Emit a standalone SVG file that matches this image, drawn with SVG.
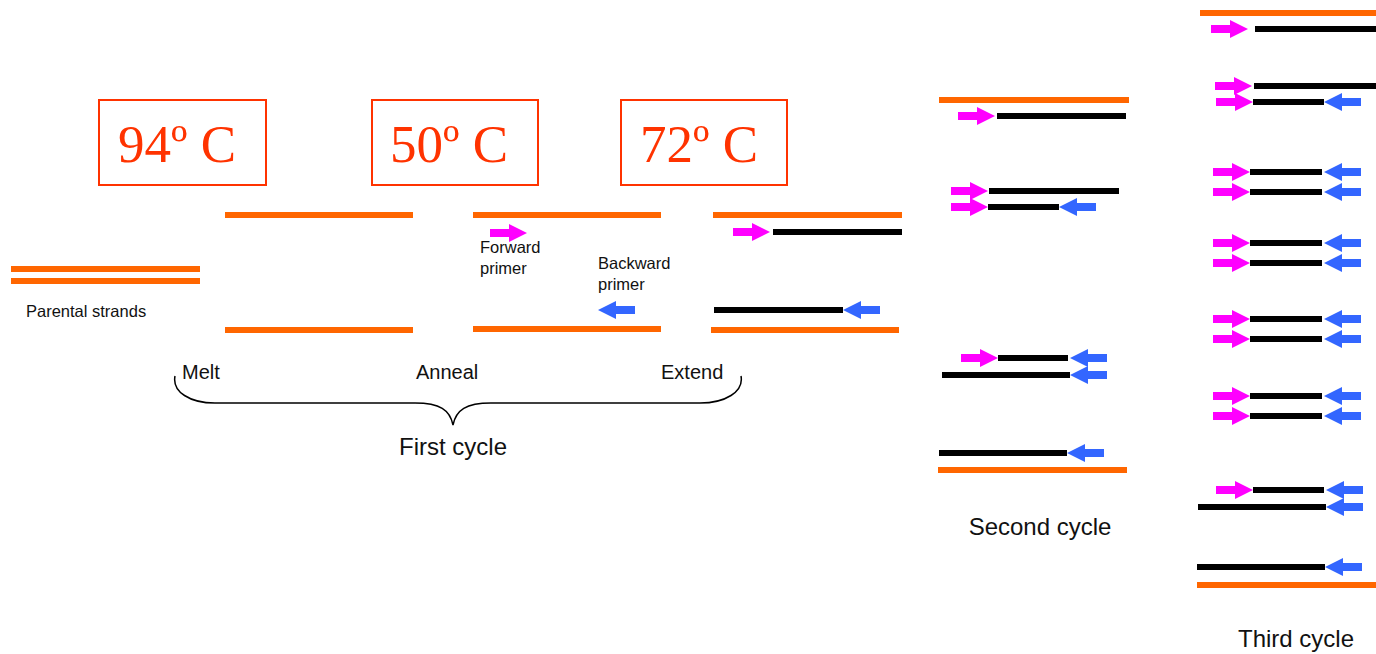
<svg xmlns="http://www.w3.org/2000/svg" xmlns:xlink="http://www.w3.org/1999/xlink" width="1376" height="654" viewBox="0 0 1376 654">
<defs>
<style>
.o{stroke:#ff6600;stroke-width:6;fill:none}
.k{stroke:#000;stroke-width:6;fill:none}
.box{fill:none;stroke:#ff3300;stroke-width:2}
.temp{font-family:"Liberation Serif",serif;font-size:53px;fill:#ff3300}
.sm{font-family:"Liberation Sans",Arial,sans-serif;font-size:16.5px;fill:#111}
.md{font-family:"Liberation Sans",Arial,sans-serif;font-size:20px;fill:#111}
.lg{font-family:"Liberation Sans",Arial,sans-serif;font-size:24px;fill:#111}
</style>
<path id="fa" d="M-37,-4H-18V-9L0,0L-18,9V4H-37Z" fill="#ff00ff"/>
<path id="ba" d="M37,-4H18V-9L0,0L18,9V4H37Z" fill="#3366ff"/>
</defs>
<rect width="1376" height="654" fill="#fff"/>

<g id="temp94"><rect class="box" x="99" y="100" width="167" height="85"/><text class="temp" x="118" y="162">94º C</text></g>
<g id="temp50"><rect class="box" x="372" y="100" width="166" height="85"/><text class="temp" x="390" y="162">50º C</text></g>
<g id="temp72"><rect class="box" x="621" y="100" width="166" height="85"/><text class="temp" x="640" y="162">72º C</text></g>

<g id="parental">
<line class="o" x1="11" y1="269" x2="200" y2="269"/>
<line class="o" x1="11" y1="281" x2="200" y2="281"/>
<text class="sm" x="26" y="317">Parental strands</text>
</g>

<g id="melt">
<line class="o" x1="225" y1="215" x2="413" y2="215"/>
<line class="o" x1="225" y1="330" x2="413" y2="330"/>
</g>

<g id="anneal">
<line class="o" x1="473" y1="215" x2="661" y2="215"/>
<line class="o" x1="473" y1="329" x2="661" y2="329"/>
<use xlink:href="#fa" x="527" y="233"/>
<use xlink:href="#ba" x="598" y="310"/>
<text class="sm" x="480" y="253">Forward</text>
<text class="sm" x="480" y="274">primer</text>
<text class="sm" x="598" y="269">Backward</text>
<text class="sm" x="598" y="290">primer</text>
</g>

<g id="extend">
<line class="o" x1="713" y1="215" x2="902" y2="215"/>
<line class="k" x1="773" y1="232" x2="902" y2="232"/>
<use xlink:href="#fa" x="770" y="232"/>
<line class="k" x1="714" y1="310" x2="843" y2="310"/>
<use xlink:href="#ba" x="843" y="310"/>
<line class="o" x1="711" y1="330" x2="899" y2="330"/>
</g>

<g id="first-cycle">
<text class="md" x="182" y="379">Melt</text>
<text class="md" x="416" y="379">Anneal</text>
<text class="md" x="661" y="379">Extend</text>
<path d="M175,376 C172,392 190,403 215,403 L415,403 C440,403 450,410 453,425 C456,410 466,403 491,403 L700,403 C725,403 744,392 741,376" fill="none" stroke="#000" stroke-width="1.5"/>
<text class="lg" x="453" y="455" text-anchor="middle">First cycle</text>
</g>

<g id="second-cycle">
<line class="o" x1="939" y1="100" x2="1129" y2="100"/>
<line class="k" x1="997" y1="116" x2="1126" y2="116"/>
<use xlink:href="#fa" x="995" y="116"/>
<line class="k" x1="989" y1="191" x2="1119" y2="191"/>
<use xlink:href="#fa" x="988" y="191"/>
<line class="k" x1="988" y1="207" x2="1059" y2="207"/>
<use xlink:href="#fa" x="988" y="207"/>
<use xlink:href="#ba" x="1059" y="207"/>
<line class="k" x1="998" y1="358" x2="1068" y2="358"/>
<use xlink:href="#fa" x="998" y="358"/>
<use xlink:href="#ba" x="1070" y="358"/>
<line class="k" x1="942" y1="375" x2="1070" y2="375"/>
<use xlink:href="#ba" x="1070" y="375"/>
<line class="k" x1="939" y1="453" x2="1067" y2="453"/>
<use xlink:href="#ba" x="1067" y="453"/>
<line class="o" x1="938" y1="470" x2="1127" y2="470"/>
<text class="lg" x="1040" y="535" text-anchor="middle">Second cycle</text>
</g>

<g id="third-cycle">
<line class="o" x1="1200" y1="13" x2="1376" y2="13"/>
<line class="k" x1="1255" y1="29" x2="1376" y2="29"/>
<use xlink:href="#fa" x="1248" y="29"/>
<line class="k" x1="1254" y1="86" x2="1376" y2="86"/>
<use xlink:href="#fa" x="1252" y="86"/>
<line class="k" x1="1253" y1="102" x2="1324" y2="102"/>
<use xlink:href="#fa" x="1253" y="102"/>
<use xlink:href="#ba" x="1324" y="102"/>
<g id="pairs">
<line class="k" x1="1250" y1="172" x2="1322" y2="172"/><use xlink:href="#fa" x="1250" y="172"/><use xlink:href="#ba" x="1324" y="172"/>
<line class="k" x1="1250" y1="192" x2="1322" y2="192"/><use xlink:href="#fa" x="1250" y="192"/><use xlink:href="#ba" x="1324" y="192"/>
<line class="k" x1="1250" y1="243" x2="1322" y2="243"/><use xlink:href="#fa" x="1250" y="243"/><use xlink:href="#ba" x="1324" y="243"/>
<line class="k" x1="1250" y1="263" x2="1322" y2="263"/><use xlink:href="#fa" x="1250" y="263"/><use xlink:href="#ba" x="1324" y="263"/>
<line class="k" x1="1250" y1="319" x2="1322" y2="319"/><use xlink:href="#fa" x="1250" y="319"/><use xlink:href="#ba" x="1324" y="319"/>
<line class="k" x1="1250" y1="339" x2="1322" y2="339"/><use xlink:href="#fa" x="1250" y="339"/><use xlink:href="#ba" x="1324" y="339"/>
<line class="k" x1="1250" y1="396" x2="1322" y2="396"/><use xlink:href="#fa" x="1250" y="396"/><use xlink:href="#ba" x="1324" y="396"/>
<line class="k" x1="1250" y1="416" x2="1322" y2="416"/><use xlink:href="#fa" x="1250" y="416"/><use xlink:href="#ba" x="1324" y="416"/>
</g>
<line class="k" x1="1253" y1="490" x2="1324" y2="490"/>
<use xlink:href="#fa" x="1253" y="490"/>
<use xlink:href="#ba" x="1326" y="490"/>
<line class="k" x1="1198" y1="507" x2="1326" y2="507"/>
<use xlink:href="#ba" x="1326" y="507"/>
<line class="k" x1="1197" y1="567" x2="1325" y2="567"/>
<use xlink:href="#ba" x="1325" y="567"/>
<line class="o" x1="1197" y1="585" x2="1376" y2="585"/>
<text class="lg" x="1296" y="647" text-anchor="middle">Third cycle</text>
</g>
</svg>
